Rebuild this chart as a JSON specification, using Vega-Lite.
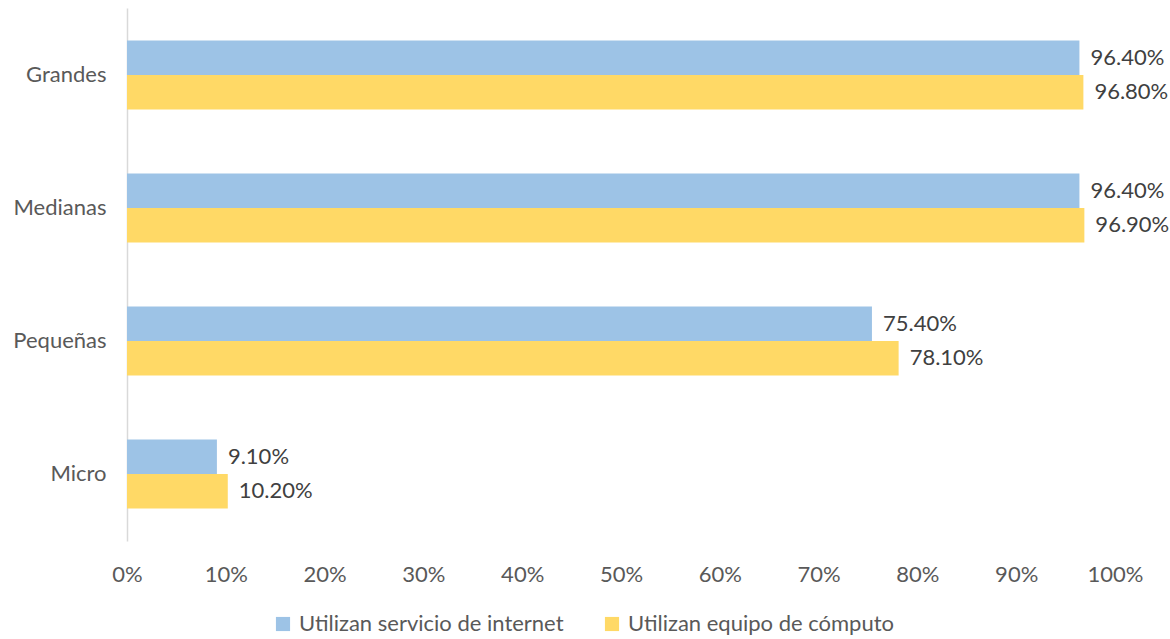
{
  "$schema": "https://vega.github.io/schema/vega-lite/v6.json",
  "width": 988,
  "height": 533,
  "autosize": "none",
  "padding": {"left": 127, "top": 8, "right": 55, "bottom": 98},
  "background": "white",
  "config": {
    "font": "Lato",
    "view": {"stroke": null},
    "axis": {"labelFont": "Lato", "labelColor": "#595959", "labelFontSize": 22},
    "legend": {"labelFont": "Lato", "labelColor": "#595959", "labelFontSize": 22, "labelLimit": 0}
  },
  "data": {
    "values": [
      {"tamano": "Grandes", "serie": "Utilizan servicio de internet", "valor": 0.964},
      {"tamano": "Grandes", "serie": "Utilizan equipo de cómputo", "valor": 0.968},
      {"tamano": "Medianas", "serie": "Utilizan servicio de internet", "valor": 0.964},
      {"tamano": "Medianas", "serie": "Utilizan equipo de cómputo", "valor": 0.969},
      {"tamano": "Pequeñas", "serie": "Utilizan servicio de internet", "valor": 0.754},
      {"tamano": "Pequeñas", "serie": "Utilizan equipo de cómputo", "valor": 0.781},
      {"tamano": "Micro", "serie": "Utilizan servicio de internet", "valor": 0.091},
      {"tamano": "Micro", "serie": "Utilizan equipo de cómputo", "valor": 0.102}
    ]
  },
  "encoding": {
    "y": {
      "field": "tamano", "type": "nominal",
      "sort": ["Grandes", "Medianas", "Pequeñas", "Micro"],
      "scale": {"paddingInner": 0.482, "paddingOuter": 0.244},
      "axis": {"title": null, "ticks": false, "domainColor": "#D9D9D9", "domainWidth": 1.5, "labelPadding": 21}
    },
    "yOffset": {
      "field": "serie", "type": "nominal",
      "sort": ["Utilizan servicio de internet", "Utilizan equipo de cómputo"],
      "scale": {"paddingInner": 0, "paddingOuter": 0}
    },
    "x": {
      "field": "valor", "type": "quantitative",
      "scale": {"domain": [0, 1]},
      "axis": {"title": null, "format": ".0%", "values": [0,0.1,0.2,0.3,0.4,0.5,0.6,0.7,0.8,0.9,1], "labelOverlap": false, "labelFlush": false, "grid": false, "domain": false, "ticks": false, "labelPadding": 23}
    }
  },
  "layer": [
    {
      "mark": {"type": "bar"},
      "encoding": {
        "color": {
          "field": "serie", "type": "nominal",
          "sort": ["Utilizan servicio de internet", "Utilizan equipo de cómputo"],
          "scale": {"domain": ["Utilizan servicio de internet", "Utilizan equipo de cómputo"], "range": ["#9DC3E6", "#FFD966"]},
          "legend": {"title": null, "orient": "none", "legendX": 145, "legendY": 605, "direction": "horizontal", "symbolType": "square", "symbolSize": 200, "symbolStrokeWidth": 0, "labelOffset": 5, "columnPadding": 37}
        }
      }
    },
    {
      "mark": {"type": "text", "align": "left", "baseline": "middle", "dx": 11, "fontSize": 22, "color": "#404040", "font": "Lato"},
      "encoding": {
        "text": {"field": "valor", "type": "quantitative", "format": ".2%"}
      }
    }
  ]
}
